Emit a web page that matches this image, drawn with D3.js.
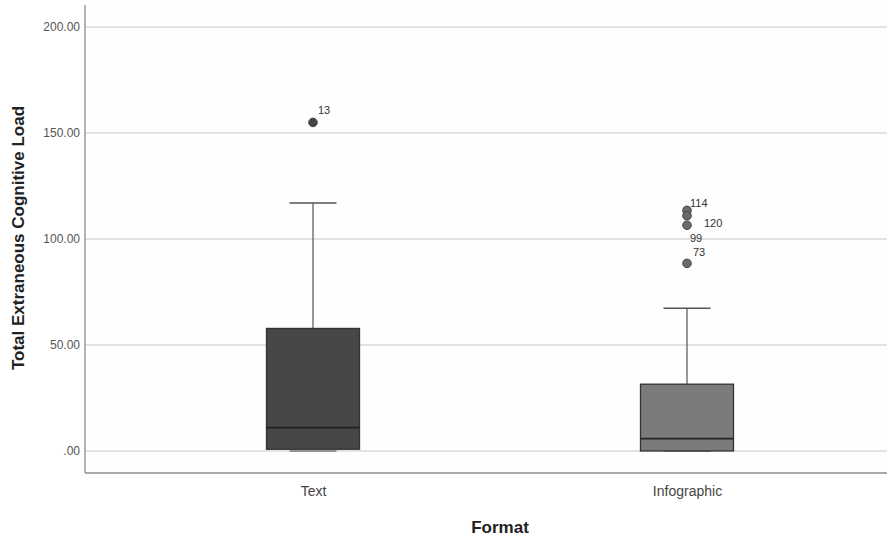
<!DOCTYPE html>
<html><head><meta charset="utf-8">
<script src="https://cdn.jsdelivr.net/npm/d3@7"></script>
<style>body{margin:0;background:#fff;}svg{display:block;font-family:"Liberation Sans",Arial,sans-serif;}</style>
</head><body><svg id="c" width="887" height="541"></svg>
<script>
const categories = ["Text", "Infographic"];
const lowerWhisker = [0, 0];
const q1 = [0.8, 0];
const median = [11, 5.8];
const q3 = [57.8, 31.5];
const upperWhisker = [117, 67.3];
const outlierValues = [[155], [113.5, 111, 106.5, 88.5]];
const outlierLabels = [["13"], ["114", "120", "99", "73"]];
const yTicks = [0, 50, 100, 150, 200];
const boxFills = ["#474747", "#7b7b7b"];

const svg = d3.select("#c");
const L = 85, R = 887, T = 5, B = 473;
const y = d3.scaleLinear().domain([-10.4, 210.4]).range([B, T]);
const xc = d3.scaleOrdinal().domain(categories).range([313, 687]);

svg.append("rect").attr("x", L).attr("y", T).attr("width", R - L).attr("height", B - T).attr("fill", "#fefefe");

svg.append("g").selectAll("line").data(yTicks).join("line")
  .attr("x1", L).attr("x2", R).attr("y1", d => y(d)).attr("y2", d => y(d))
  .attr("stroke", "#d8d8d8").attr("stroke-width", 1.6);

const yAxis = d3.axisLeft(y).tickValues(yTicks).tickSize(0).tickPadding(5)
  .tickFormat(d => d === 0 ? ".00" : d3.format(".2f")(d));
const gy = svg.append("g").attr("transform", `translate(${L},0)`).call(yAxis);
gy.select(".domain").attr("stroke", "#8c8c8c").attr("stroke-width", 1.3).attr("d", `M0,${T}V${B}`);
gy.selectAll("text").attr("font-size", 12).attr("fill", "#555").attr("font-family", "Liberation Sans, Arial, sans-serif");

const xAxis = d3.axisBottom(xc).tickSize(0).tickPadding(13);
const gx = svg.append("g").attr("transform", `translate(0,${B})`).call(xAxis);
gx.select(".domain").attr("stroke", "#8c8c8c").attr("stroke-width", 1.3).attr("d", `M${L},0H${R}`);
gx.selectAll("text").attr("font-size", 14).attr("fill", "#444").attr("font-family", "Liberation Sans, Arial, sans-serif");

svg.append("text").attr("transform", `translate(24,238) rotate(-90)`)
  .attr("text-anchor", "middle").attr("font-size", 17).attr("font-weight", "bold").attr("fill", "#222")
  .text("Total Extraneous Cognitive Load");
svg.append("text").attr("x", 500).attr("y", 533).attr("text-anchor", "middle")
  .attr("font-size", 17).attr("font-weight", "bold").attr("fill", "#222").text("Format");

const boxW = 93, capW = 47;
categories.forEach((c, i) => {
  const cx = xc(c);
  const g = svg.append("g");
  g.append("line").attr("x1", cx).attr("x2", cx).attr("y1", y(q3[i])).attr("y2", y(upperWhisker[i]))
    .attr("stroke", "#555").attr("stroke-width", 1.2);
  g.append("line").attr("x1", cx - capW / 2).attr("x2", cx + capW / 2)
    .attr("y1", y(upperWhisker[i])).attr("y2", y(upperWhisker[i]))
    .attr("stroke", "#555").attr("stroke-width", 1.5);
  g.append("line").attr("x1", cx - capW / 2).attr("x2", cx + capW / 2)
    .attr("y1", y(lowerWhisker[i])).attr("y2", y(lowerWhisker[i]))
    .attr("stroke", "#777").attr("stroke-width", 1.5);
  g.append("rect").attr("x", cx - boxW / 2).attr("width", boxW)
    .attr("y", y(q3[i])).attr("height", Math.max(1, y(q1[i]) - y(q3[i])))
    .attr("fill", boxFills[i]).attr("stroke", "#333").attr("stroke-width", 1.3);
  g.append("line").attr("x1", cx - boxW / 2).attr("x2", cx + boxW / 2)
    .attr("y1", y(median[i])).attr("y2", y(median[i]))
    .attr("stroke", "#222").attr("stroke-width", 1.6);
  outlierValues[i].forEach(v => {
    g.append("circle").attr("cx", cx).attr("cy", y(v)).attr("r", 4.3)
      .attr("fill", i === 0 ? "#444" : "#6a6a6a").attr("stroke", "#444").attr("stroke-width", 1);
  });
});

const labelOffsets = [[[5, -8]], [[3, -3], [17, 11], [3, 16.5], [6, -7]]];
categories.forEach((c, i) => {
  const cx = xc(c);
  outlierLabels[i].forEach((lab, j) => {
    svg.append("text").attr("x", cx + labelOffsets[i][j][0]).attr("y", y(outlierValues[i][j]) + labelOffsets[i][j][1])
      .attr("font-size", 11).attr("fill", "#333").text(lab);
  });
});
</script></body></html>
